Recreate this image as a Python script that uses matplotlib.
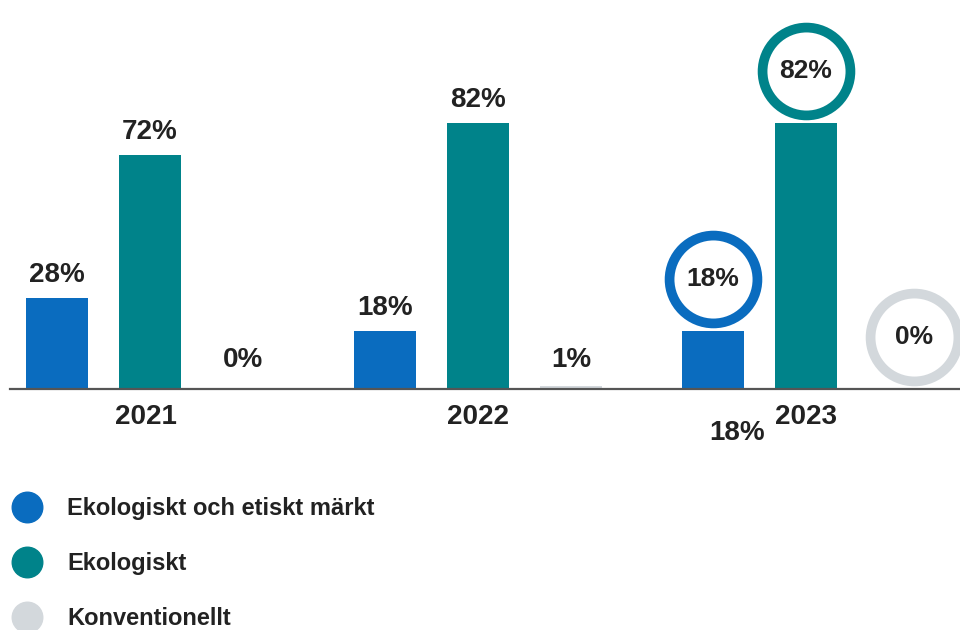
import numpy as np
import matplotlib
matplotlib.use("Agg")
import matplotlib.pyplot as plt
from matplotlib.lines import Line2D

plt.rcParams['font.family'] = ['Liberation Sans', 'DejaVu Sans']

# data
years = ['2021', '2022', '2023']
series = ['Ekologiskt och etiskt märkt', 'Ekologiskt', 'Konventionellt']
etiskt = [28, 18, 18]
ekologiskt = [72, 82, 82]
konventionellt = [0, 1, 0]
extra_label = '18%'   # stray label under 2023 in the original

colors = ['#0a6cbf', '#00838a', '#d3d8dc']
txt_col = '#222222'

fig = plt.figure(figsize=(9.6, 6.3), dpi=100)
# baseline at 389 px from top
ax = fig.add_axes([0, 241 / 630, 1, 389 / 630])
px_per_pct = 3.25
ax.set_ylim(0, 389 / px_per_pct)
ax.set_xlim(-150 / 328, 810 / 328)
ax.axis('off')

x = np.arange(len(years))
offs = [-0.284, 0.0, 0.284]
width = 0.19
all_vals = [etiskt, ekologiskt, konventionellt]

for k, vals in enumerate(all_vals):
    ax.bar(x + offs[k], vals, width=width, color=colors[k], zorder=2)

# baseline
ax.plot([-140 / 328, 810 / 328], [0, 0], color='#555555', lw=1.6,
        clip_on=False, zorder=3)

# value labels, 2023 gets the ring markers
for k, vals in enumerate(all_vals):
    for i, v in enumerate(vals):
        xp = x[i] + offs[k]
        if i == 2:
            yc = v + 16
            xr = xp + (0.045 if k == 2 else 0)
            ax.scatter([xr], [yc], s=4000, facecolor='white',
                       edgecolor=colors[k], linewidth=7.0, zorder=4,
                       clip_on=False)
            ax.text(xr, yc, f'{v}%', ha='center', va='center', fontsize=19,
                    fontweight='bold', color=txt_col, zorder=5)
        else:
            yc = max(v + 7, 9)
            ax.text(xp, yc, f'{v}%', ha='center', va='center', fontsize=20,
                    fontweight='bold', color=txt_col, zorder=5)

for i, yr in enumerate(years):
    ax.text(x[i] - (0.012 if i == 0 else 0), -8.6, yr, ha='center',
            va='center', fontsize=20, fontweight='bold', color=txt_col)

ax.text(x[2] - 0.21, -13.6, extra_label, ha='center', va='center',
        fontsize=20, fontweight='bold', color=txt_col)

handles = [Line2D([], [], marker='o', ls='none', markersize=22,
                  markerfacecolor=c, markeredgecolor=c) for c in colors]
leg = fig.legend(handles, series, loc='upper left',
                 bbox_to_anchor=(15 / 960, 1 - 497 / 630), frameon=False,
                 borderpad=0, borderaxespad=0,
                 handlelength=1.0, handletextpad=1.2, labelspacing=1.36,
                 prop={'size': 17, 'weight': 'bold'})
for t in leg.get_texts():
    t.set_color(txt_col)

fig.savefig('out.png', dpi=100)
